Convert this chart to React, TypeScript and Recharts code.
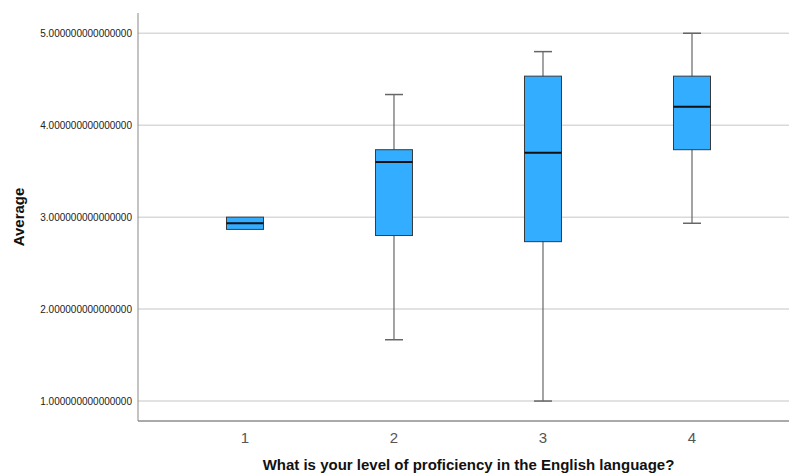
import React from 'react';
import {
  ComposedChart,
  Bar,
  XAxis,
  YAxis,
  CartesianGrid,
} from 'recharts';

const categories = [1, 2, 3, 4];
const mins = [2.8667, 1.6667, 1.0, 2.9333];
const q1s = [2.8667, 2.8, 2.7333, 3.7333];
const medians = [2.9333, 3.6, 3.7, 4.2];
const q3s = [3.0, 3.7333, 4.5333, 4.5333];
const maxs = [3.0, 4.3333, 4.8, 5.0];
const yTicks = [1, 2, 3, 4, 5];

const data = categories.map((c, i) => ({
  cat: c,
  min: mins[i],
  q1: q1s[i],
  median: medians[i],
  q3: q3s[i],
  max: maxs[i],
  range: [mins[i], maxs[i]],
}));

const FONT = 'Arial, "Liberation Sans", sans-serif';

const BoxShape = (props: any) => {
  const { x, y, width, height, payload } = props;
  const top = Math.min(y, y + height);
  const h = Math.abs(height);
  const span = payload.max - payload.min;
  // map a value onto the min..max range the bar was drawn for
  const py = (v: number) => (span > 0 ? top + (h * (payload.max - v)) / span : top);
  const cx = x + width / 2;
  const cap = 9;
  const yQ1 = py(payload.q1);
  const yQ3 = py(payload.q3);
  const yMed = py(payload.median);
  const yMin = py(payload.min);
  const yMax = py(payload.max);
  return (
    <g>
      <line x1={cx} x2={cx} y1={yMax} y2={yMin} stroke='#666' strokeWidth={1.2} />
      {payload.max > payload.q3 && (
        <line x1={cx - cap} x2={cx + cap} y1={yMax} y2={yMax} stroke='#666' strokeWidth={1.5} />
      )}
      {payload.min < payload.q1 && (
        <line x1={cx - cap} x2={cx + cap} y1={yMin} y2={yMin} stroke='#666' strokeWidth={1.5} />
      )}
      <rect x={x} y={yQ3} width={width} height={yQ1 - yQ3} fill='#33adff' stroke='#3a3a3a' strokeWidth={1} />
      <line x1={x} x2={x + width} y1={yMed} y2={yMed} stroke='#111' strokeWidth={2} />
    </g>
  );
};

const App = () => {
  return (
    <div style={{ position: 'absolute', left: 0, top: 0, width: 789, height: 475, background: '#fff' }}>
      <ComposedChart
        width={789}
        height={475}
        data={data}
        margin={{ top: 13, right: 0, bottom: 0, left: 0 }}
      >
        <CartesianGrid vertical={false} horizontal syncWithTicks stroke='#d9d9d9' strokeWidth={1.5} />
        <XAxis
          dataKey='cat'
          type='number'
          domain={[0.282, 4.651]}
          ticks={categories}
          allowDataOverflow
          height={54}
          tickSize={0}
          tickMargin={11}
          axisLine={{ stroke: '#555' }}
          tick={{ fill: '#555', fontSize: 15, fontFamily: FONT }}
          label={{
            content: (p: any) => {
              const vb = p.viewBox;
              return (
                <text
                  x={vb.x + vb.width / 2 + 5}
                  y={470}
                  textAnchor='middle'
                  fontFamily={FONT}
                  fontSize={15}
                  fontWeight='bold'
                  fill='#111'
                >
                  What is your level of proficiency in the English language?
                </text>
              );
            },
          }}
        />
        <YAxis
          type='number'
          domain={[0.783, 5.22]}
          ticks={yTicks}
          allowDataOverflow
          width={138}
          tickSize={0}
          tickMargin={6}
          axisLine={{ stroke: '#888' }}
          tickFormatter={(v: number) => v.toFixed(15)}
          tick={{ fill: '#222', fontSize: 10, fontFamily: FONT }}
          label={{
            content: (p: any) => {
              const vb = p.viewBox;
              const cx = vb.x + 18;
              const cy = vb.y + vb.height / 2;
              return (
                <text
                  x={cx}
                  y={cy}
                  transform={`rotate(-90 ${cx} ${cy})`}
                  textAnchor='middle'
                  dominantBaseline='central'
                  fontFamily={FONT}
                  fontSize={15}
                  fontWeight='bold'
                  fill='#111'
                >
                  Average
                </text>
              );
            },
          }}
        />
        <Bar dataKey='range' barSize={37} shape={BoxShape} isAnimationActive={false} />
      </ComposedChart>
    </div>
  );
};

export default App;
